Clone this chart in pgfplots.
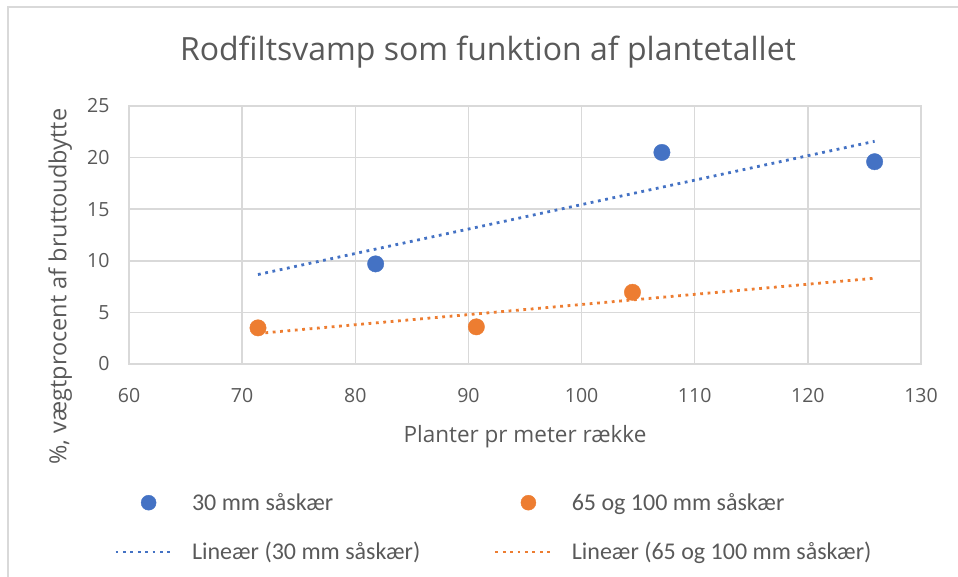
\documentclass[border=0pt]{standalone}
\usepackage{pgfplots}
\pgfplotsset{compat=1.18}
\usepackage{fontspec}
\setmainfont{Open Sans}
\newfontfamily\legendfont{Carlito}
\definecolor{bluec}{HTML}{4472C4}
\definecolor{orangec}{HTML}{ED7D31}
\definecolor{gridc}{HTML}{D9D9D9}
\definecolor{textc}{HTML}{595959}
\begin{document}
\begin{tikzpicture}
\path[use as bounding box] (0pt,0pt) rectangle (958pt,577pt);
\draw[gridc, line width=2pt] (8pt,0pt) -- (8pt,569.5pt) -- (958pt,569.5pt);
\node[font=\fontsize{32}{36}\selectfont, text=textc] at (488pt,525pt) {Rodfiltsvamp som funktion af plantetallet};
\begin{axis}[
  at={(129pt,213pt)}, anchor=south west,
  scale only axis, width=792pt, height=258pt,
  xmin=60, xmax=130, ymin=0, ymax=25,
  xtick={60,70,...,130}, ytick={0,5,...,25},
  grid=major, major grid style={draw=gridc, line width=1.5pt},
  axis line style={draw=gridc, line width=1.5pt},
  tick style={draw=none},
  /pgf/number format/assume math mode=true,
  ticklabel style={font=\fontsize{19.5}{22}\selectfont, text=textc},
  xticklabel style={yshift=-21pt},
  yticklabel style={xshift=-16pt},
  xlabel={Planter pr meter række},
  ylabel={\%, vægtprocent af bruttoudbytte},
  label style={font=\fontsize{22.5}{26}\selectfont, text=textc},
  xlabel style={at={(axis description cs:0.5,-0.283)}, anchor=center},
  ylabel style={at={(axis description cs:-0.087,0.30)}, anchor=center, font=\fontsize{23.5}{27}\selectfont},
  legend columns=2,
  legend style={draw=none, fill=none, inner xsep=0pt, inner ysep=0pt,
    at={(axis description cs:-0.0189,-0.50)}, anchor=north west,
    nodes={inner sep=0pt, text depth=0.2em},
    font=\legendfont\fontsize{24}{27}\selectfont, text=textc,
    row sep=30pt,
    /tikz/every odd column/.append style={column sep=17pt},
    cells={anchor=west}},
  legend image code/.code={%
    \path[draw=none, fill=none] (0pt,-9pt) rectangle (58pt,9pt);
    \draw[#1] plot coordinates {(0pt,0pt) (58pt,0pt)};},
]
\addplot[color=bluec, line width=2.8pt, dash pattern=on 2.8pt off 4.6pt, forget plot]
  coordinates {(71.4,8.67) (125.9,21.58)};
\addplot[color=orangec, line width=2.8pt, dash pattern=on 2.8pt off 4.6pt, forget plot]
  coordinates {(71.4,2.96) (125.9,8.31)};
\addplot[only marks, mark=*, mark size=8.2pt, color=bluec, mark options={draw=bluec, fill=bluec},
  legend image code/.code={\path[draw=none, fill=none] (0pt,-9pt) rectangle (58pt,9pt); \fill[bluec] (33pt,0pt) circle (7.5pt);}]
  coordinates {(81.8,9.7) (107.1,20.5) (125.9,19.6)};
\addlegendentry{\makebox[302pt][l]{30 mm såskær}}
\addplot[only marks, mark=*, mark size=8.2pt, color=orangec, mark options={draw=orangec, fill=orangec},
  legend image code/.code={\path[draw=none, fill=none] (0pt,-9pt) rectangle (58pt,9pt); \fill[orangec] (33pt,0pt) circle (7.5pt);}]
  coordinates {(71.4,3.5) (90.7,3.6) (104.5,6.95)};
\addlegendentry{65 og 100 mm såskær}
\addlegendimage{color=bluec, line width=2.8pt, dash pattern=on 2.8pt off 4.6pt}
\addlegendentry{\makebox[302pt][l]{Lineær (30 mm såskær)}}
\addlegendimage{color=orangec, line width=2.8pt, dash pattern=on 2.8pt off 4.6pt}
\addlegendentry{Lineær (65 og 100 mm såskær)}
\end{axis}
\end{tikzpicture}
\end{document}
